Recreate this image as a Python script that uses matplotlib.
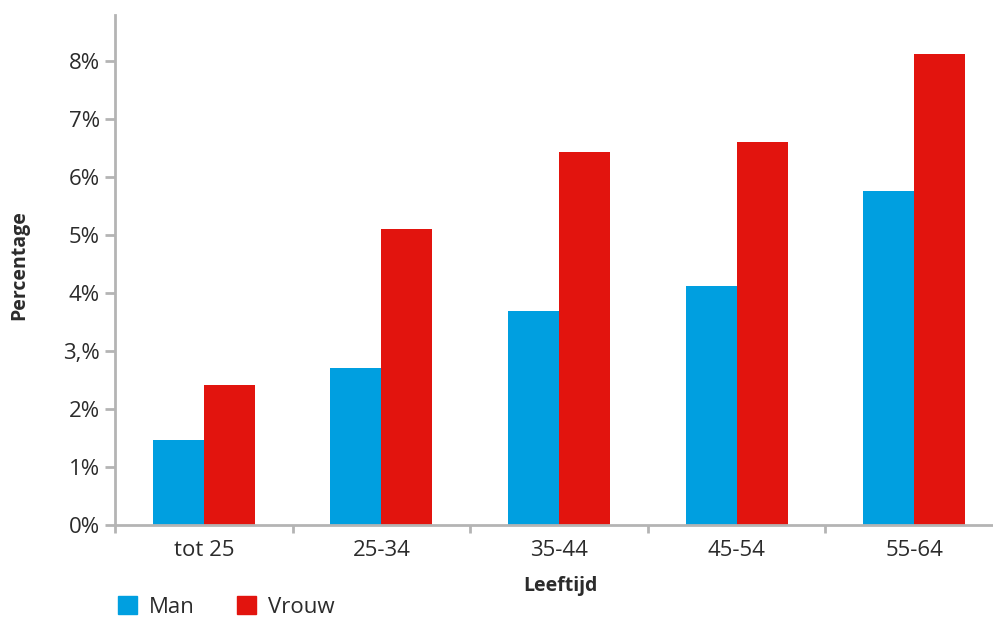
import matplotlib.pyplot as plt
import numpy as np
from matplotlib.patches import Patch

# Data
categories = ['tot 25', '25-34', '35-44', '45-54', '55-64']
man = [1.47, 2.71, 3.70, 4.13, 5.77]
vrouw = [2.42, 5.11, 6.44, 6.61, 8.12]
ytick_vals = [0, 1, 2, 3, 4, 5, 6, 7, 8]
ytick_labels = ['0%', '1%', '2%', '3,%', '4%', '5%', '6%', '7%', '8%']

blue = '#009fe0'
red = '#e2140e'
gray = '#b4b4b4'
txt = '#2b2b2b'

plt.rcParams['font.family'] = ['Open Sans', 'DejaVu Sans']

fig = plt.figure(figsize=(9.93, 6.19), dpi=100)
ax = fig.add_axes([115 / 993, 94 / 619, 888 / 993, 510 / 619])

x = np.arange(len(categories))
w = 0.287
ax.bar(x - w / 2, man, width=w, color=blue, label='Man')
ax.bar(x + w / 2, vrouw, width=w, color=red, label='Vrouw')

ax.set_xlim(-0.5, len(categories) - 0.5)
ax.set_ylim(0, 8.8)

# Axis styling
for s in ['top', 'right']:
    ax.spines[s].set_visible(False)
for s in ['left', 'bottom']:
    ax.spines[s].set_color(gray)
    ax.spines[s].set_linewidth(2)

ax.set_yticks(ytick_vals)
ax.set_yticklabels(ytick_labels)
ax.tick_params(axis='y', colors=gray, length=7, width=2, labelsize=16,
               labelcolor=txt, pad=4)

ax.set_xticks(x)
ax.set_xticklabels(categories)
ax.tick_params(axis='x', which='major', length=0, labelsize=16,
               labelcolor=txt, pad=11)
ax.set_xticks(np.arange(-0.5, len(categories)), minor=True)
ax.tick_params(axis='x', which='minor', colors=gray, length=6, width=2)

ax.set_ylabel('Percentage', fontsize=14, fontweight='bold', color=txt)
ax.yaxis.set_label_coords(-0.097, 0.51)
ax.set_xlabel('Leeftijd', fontsize=14, fontweight='bold', color=txt)
ax.xaxis.set_label_coords(445 / 888, -0.1)

handles = [Patch(color=blue, label='Man'), Patch(color=red, label='Vrouw')]
fig.legend(handles=handles, loc='center left',
           bbox_to_anchor=(98 / 993, 1 - 607 / 619), ncol=2, frameon=False,
           fontsize=16, handlelength=0.85, handleheight=0.85,
           handletextpad=0.55, columnspacing=1.9, labelcolor=txt)

fig.savefig('out.png', dpi=100, facecolor='white')
